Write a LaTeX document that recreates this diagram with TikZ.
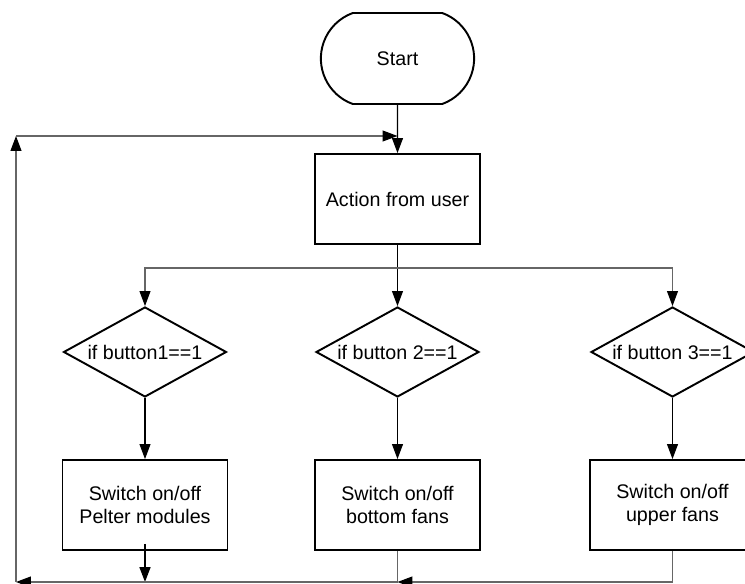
\documentclass[tikz,border=0pt]{standalone}
\usepackage{fontspec}
\setmainfont{Liberation Sans}
\usetikzlibrary{shapes.geometric,shapes.misc,arrows.meta}
\newcommand{\flowfont}{\fontsize{11.2}{12.9}\selectfont}

\begin{document}
\begin{tikzpicture}[x=0.02cm,y=-0.02cm,
  term/.style={rounded rectangle,rounded rectangle arc length=140,draw,
    line width=1.1pt,minimum width=3.3cm,minimum height=1.82cm,font=\flowfont},
  box/.style={rectangle,draw,line width=1.1pt,
    minimum width=3.3cm,minimum height=1.8cm,align=center,font=\flowfont},
  test/.style={diamond,draw,line width=1.1pt,aspect=1.8,inner sep=0pt,
    minimum width=3.26cm,minimum height=1.8cm,font=\flowfont},
  arr/.style={-{Triangle[length=0.3cm,width=0.22cm,color=black]},line width=0.6pt},
  grayline/.style={draw=black!60}]

  \clip (0,0) rectangle (745,584);

  \node[term] (start) at (397.5,58.5) {Start};
  \node[box] (action) at (397.5,199) {Action from user};

  \node[test] (if1) at (145,352) {if button1==1};
  \node[test] (if2) at (397.5,352) {if button 2==1};
  \node[test] (if3) at (672.5,352) {if button 3==1};

  \node[box] (sw1) at (145,505) {Switch on/off\\Pelter modules};
  \node[box] (sw2) at (397.5,505) {Switch on/off\\bottom fans};
  \node[box] (sw3) at (672.5,505) {Switch on/off\\upper fans};

  \coordinate (split) at (397.5,268);
  \coordinate (looptop) at (16,136);
  \coordinate (loopbot) at (16,582);
  \coordinate (join) at (397.5,582);

  \draw[arr] (start) -- (action);
  \draw[arr] (action) -- (if2);
  \draw[arr,grayline] (split) -| (if1);
  \draw[arr,grayline] (split) -| (if3);

  \draw[arr] (if1) -- (sw1);
  \draw[arr] (if2) -- (sw2);
  \draw[arr] (if3) -- (sw3);

  \draw[arr,line width=1pt] ([yshift=0.14cm]sw1.south) -- (sw1.south |- loopbot);
  \draw[arr,grayline] (sw2) -- (join) -- (loopbot);
  \draw[arr,grayline] (sw3) |- (join);

  \draw[arr,grayline] (loopbot) -- (looptop);
  \draw[arr,grayline] (looptop) -- (action.north |- looptop);
\end{tikzpicture}
\end{document}
